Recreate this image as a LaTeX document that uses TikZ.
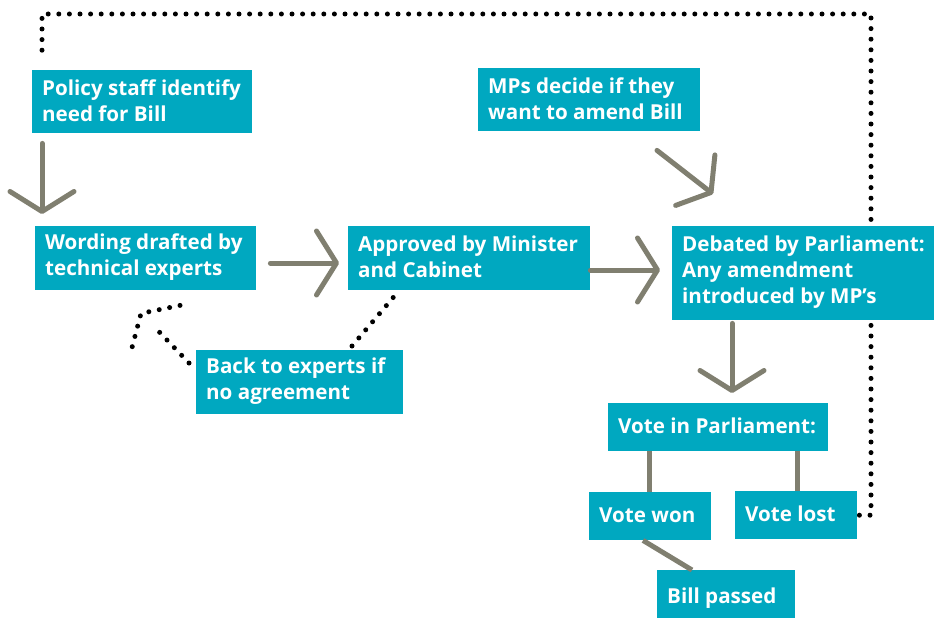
\documentclass[tikz,border=0pt]{standalone}
\usepackage{fontspec}
\setmainfont{Open Sans}[BoldFont={* Bold}]
\usetikzlibrary{arrows.meta,calc,backgrounds}
\definecolor{boxc}{RGB}{0,168,192}
\definecolor{arrc}{RGB}{128,127,112}
\tikzset{
  box/.style={fill=boxc, anchor=north west, inner sep=0pt},
  boxtext/.style={anchor=west, text=white, align=left, inner sep=0pt,
    font=\fontsize{20.6}{26}\selectfont\bfseries},
  arr/.style={draw=arrc, line width=5pt, line cap=round,
    -{Straight Barb[length=20pt,width=64pt,round]}},
  link/.style={draw=arrc, line width=5pt},
  dots/.style={draw=black, line width=5pt, line cap=round, dash pattern=on 0pt off 10.6pt},
}
\newcommand{\bx}[7][-1]{% [yoffset] name, x, y, w, h, text
  \node[box, minimum width=#5pt, minimum height=#6pt] (#2) at (#3,#4) {};
  \node[boxtext] (#2t) at ($(#2.west)+(10,#1)$) {#7};}
\begin{document}
\begin{tikzpicture}[x=1pt,y=-1pt]
\useasboundingbox (0,0) rectangle (939,618);
\bx{policy}{32}{70}{220}{63}{Policy staff identify\\need for Bill}
\bx{mps}{478}{68}{222}{63}{MPs decide if they\\want to amend Bill}
\bx{wording}{35}{226}{221}{64}{Wording drafted by\\technical experts}
\bx{approved}{348}{226}{242}{64}{Approved by Minister\\and Cabinet}
\bx{debated}{672}{226}{262}{94}{Debated by Parliament:\\Any amendment\\introduced by MP’s}
\bx{back}{196}{350}{207}{64}{Back to experts if\\no agreement}
\bx{vote}{608}{403}{220}{48}{Vote in Parliament:}
\bx{won}{589}{492}{122}{48}{Vote won}
\bx{lost}{735}{491}{122}{48}{Vote lost}
\bx[4]{passed}{657}{570}{138}{48}{Bill passed}
% arrows
\draw[arr] ($(policy.south west)+(10,10)$) -- ($(wording.north west)+(7,-12)$);
\draw[arr] ($(wording.north east)+(14,37)$) -- ($(approved.north west)+(-9,37)$);
\draw[arr] ($(approved.north east)+(0,44)$) -- ($(debated.north west)+(-12,44)$);
\draw[arr] ($(mps.south west)+(179,19)$) -- ($(debated.north west)+(41,-32)$);
\draw[arr] ($(debated.south west)+(60,3)$) -- ($(vote.north west)+(124,-10)$);
% links
\draw[link] ($(vote.south west)+(41,0)$) -- ($(won.north west)+(60,0)$);
\draw[link] ($(vote.south west)+(189,0)$) -- ($(lost.north west)+(62,0)$);
\draw[link] ($(won.south west)+(54,0)$) -- ($(passed.north west)+(35,0)$);
% dotted
\coordinate (tipb) at ($(wording.south west)+(106,23)$);
\draw[dots] ($(back.north west)+(156,-4)$) -- ($(approved.south west)+(47,5)$);
\draw[dots] ($(back.north west)+(-7,13)$) -- ($(tipb)+(12,12)$);
\draw[dots] ($(tipb)+(39,-8)$) -- (tipb) -- ($(tipb)+(-10,38)$);
\begin{scope}[on background layer]
\draw[dots] ($(lost.east)+(2,0)$) -| (871,14) -| ($(policy.north west)+(10,-12)$);
\end{scope}
\end{tikzpicture}
\end{document}
